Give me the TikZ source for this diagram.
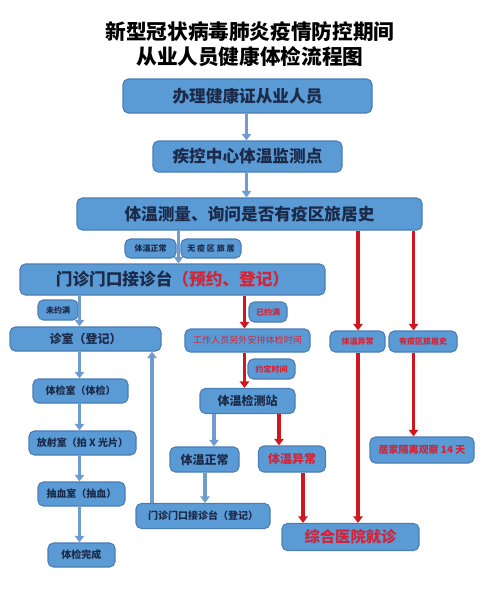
\documentclass[tikz,border=0pt]{standalone}
\usepackage{fontspec}
\setmainfont{Noto Sans CJK SC}
\usetikzlibrary{arrows.meta}
\definecolor{boxfill}{HTML}{5B9BD5}
\definecolor{boxline}{HTML}{4A7DB3}
\definecolor{navy}{HTML}{1B2A48}
\definecolor{redtxt}{HTML}{D42335}
\definecolor{redarr}{HTML}{D0161E}
\definecolor{bluearr}{HTML}{6F9BCF}
\tikzset{
  box/.style={draw=boxline, line width=0.8pt, fill=boxfill, rounded corners=4pt, inner sep=0pt, text=navy, font=\bfseries},
  big/.style={font=\fontsize{12.5pt}{14pt}\selectfont\bfseries},
  mid/.style={font=\fontsize{9pt}{10pt}\selectfont\bfseries},
  sm/.style={font=\fontsize{7.5pt}{9pt}\selectfont\bfseries},
  tiny/.style={font=\fontsize{6pt}{7pt}\selectfont\bfseries},
  redt/.style={text=redtxt},
  barrow/.style={draw=bluearr, line width=2.6pt, -{Triangle[width=7pt,length=5pt]}},
  rarrow/.style={draw=redarr, line width=2.8pt, -{Triangle[width=7pt,length=5pt]}},
}
\begin{document}
\begin{tikzpicture}[x=0.75pt,y=-0.75pt]
\useasboundingbox (0,0) rectangle (500,590);
\node[font=\fontsize{15.5pt}{18pt}\selectfont\bfseries, align=center, text=black] (title) at (250,44) {新型冠状病毒肺炎疫情防控期间\\[1pt]从业人员健康体检流程图};

\node[box,big,minimum width=249*0.75pt,minimum height=34*0.75pt] (b1) at (247.5,96) {办理健康证从业人员};
\node[box,big,minimum width=189*0.75pt,minimum height=31*0.75pt] (b2) at (247.5,156.5) {疾控中心体温监测点};
\node[box,big,minimum width=345*0.75pt,minimum height=32*0.75pt] (b3) at (249.5,214) {体温测量、询问是否有疫区旅居史};
\node[box,big,minimum width=305*0.75pt,minimum height=31*0.75pt] (b4) at (172.5,279.5) {门诊门口接诊台\textcolor{redtxt}{（预约、登记）}};

\node[box,tiny,redt,minimum width=55*0.75pt,minimum height=21*0.75pt] (r1) at (357.5,341.5) {体温异常};
\node[box,tiny,redt,minimum width=68*0.75pt,minimum height=21*0.75pt] (r2) at (423,341.5) {有疫区旅居史};

\node[box,tiny,minimum width=40*0.75pt,minimum height=20*0.75pt] (l3) at (58,310) {未约满};
\node[box,tiny,redt,minimum width=38*0.75pt,minimum height=20*0.75pt] (l4) at (268,312) {已约满};

\node[box,mid,minimum width=151*0.75pt,minimum height=24*0.75pt] (zs) at (85.5,339) {诊室（登记）};
\node[box,tiny,redt,font=\fontsize{6.8pt}{8pt}\selectfont,minimum width=125*0.75pt,minimum height=23*0.75pt] (gz) at (247.5,340.5) {工作人员另外安排体检时间};
\node[box,tiny,redt,minimum width=47*0.75pt,minimum height=20*0.75pt] (l5) at (271.5,369) {约定时间};

\node[box,mid,minimum width=95*0.75pt,minimum height=25*0.75pt] (tw) at (247.5,401) {体温检测站};
\node[box,mid,minimum width=69*0.75pt,minimum height=25*0.75pt] (tn) at (204.5,459.5) {体温正常};
\node[box,mid,redt,minimum width=67*0.75pt,minimum height=26*0.75pt] (ty) at (292,459) {体温异常};
\node[box,redt,font=\fontsize{11.5pt}{13pt}\selectfont\bfseries,minimum width=137*0.75pt,minimum height=27*0.75pt] (zh) at (350.5,537) {综合医院就诊};
\node[box,sm,redt,minimum width=104*0.75pt,minimum height=26*0.75pt] (jj) at (422,450) {居家隔离观察 14 天};
\node[box,sm,minimum width=134*0.75pt,minimum height=25*0.75pt] (mz) at (203,516) {门诊门口接诊台（登记）};

\node[box,sm,minimum width=95*0.75pt,minimum height=24*0.75pt] (tj) at (80.5,391) {体检室（体检）};
\node[box,sm,minimum width=107*0.75pt,minimum height=24*0.75pt] (fs) at (82.5,443) {放射室（拍 X 光片）};
\node[box,sm,minimum width=87*0.75pt,minimum height=24*0.75pt] (cx) at (81.5,494) {抽血室（抽血）};
\node[box,sm,minimum width=67*0.75pt,minimum height=24*0.75pt] (wc) at (81.5,555) {体检完成};

% x positions for connectors
\coordinate (x79) at (79.5,0);
\coordinate (x152) at (152,0);
\coordinate (x178) at (178.5,0);
\coordinate (x205) at (205,0);
\coordinate (x214) at (214,0);
\coordinate (x245) at (244.5,0);
\coordinate (x247) at (246.5,0);
\coordinate (x279) at (279,0);
\coordinate (x303) at (303,0);
\coordinate (x358) at (358,0);
\coordinate (x413) at (413.5,0);

\draw[barrow] (b1.south -| x247) -- (b2.north -| x247);
\draw[barrow] (b2.south -| x247) -- (b3.north -| x247);
\draw[barrow] (b3.south -| x178) -- (b4.north -| x178);
\node[box,tiny,minimum width=51*0.75pt,minimum height=19*0.75pt] (l1) at (150.5,248.5) {体温正常};
\node[box,tiny,minimum width=60*0.75pt,minimum height=19*0.75pt] (l2) at (211,248.5) {无 疫 区 旅 居};

\draw[rarrow] (b3.south -| x358) -- (r1.north -| x358);
\draw[rarrow] (b3.south -| x413) -- (r2.north -| x413);
\draw[rarrow] (r1.south -| x358) -- (zh.north -| x358);
\draw[rarrow] (r2.south -| x413) -- (jj.north -| x413);

\draw[barrow] (b4.south -| x79) -- (zs.north -| x79);
\draw[rarrow] (b4.south -| x245) -- (gz.north -| x245);
\draw[rarrow] (gz.south -| x245) -- (tw.north -| x245);

\draw[barrow] (tw.south -| x214) -- (tn.north -| x214);
\draw[rarrow] (tw.south -| x279) -- (ty.north -| x279);
\draw[rarrow] (ty.south -| x303) -- (zh.north -| x303);
\draw[barrow] (tn.south -| x205) -- (mz.north -| x205);
\draw[barrow] (mz.north -| x152) -- (zs.south -| x152);

\draw[barrow] (zs.south -| x79) -- (tj.north -| x79);
\draw[barrow] (tj.south -| x79) -- (fs.north -| x79);
\draw[barrow] (fs.south -| x79) -- (cx.north -| x79);
\draw[barrow] (cx.south -| x79) -- (wc.north -| x79);
\end{tikzpicture}
\end{document}
